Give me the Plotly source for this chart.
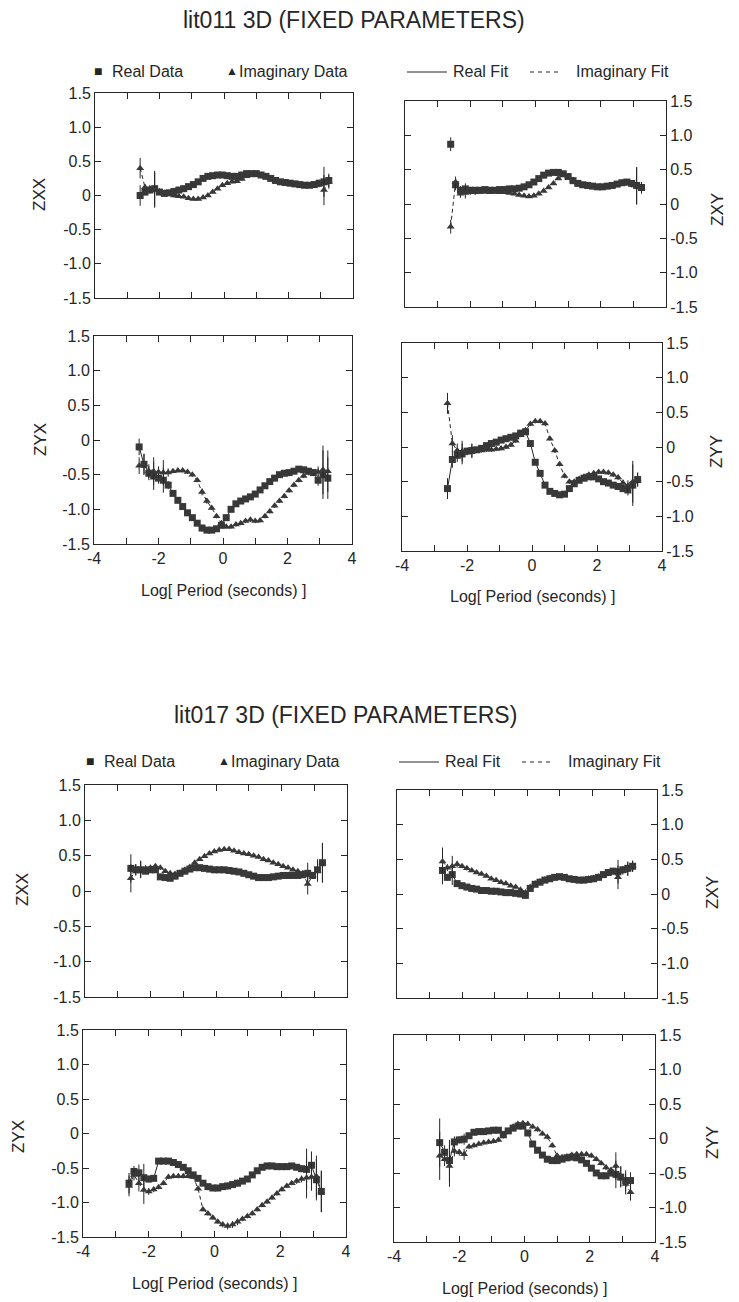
import plotly.graph_objects as go

# The page body adds an 8px margin, so the figure is made 8px smaller and
# all pixel positions below are measured on the 739x1302 page and shifted.
PAGE_W, PAGE_H = 739, 1302
OFF = 8
W, H = PAGE_W - OFF, PAGE_H - OFF

# Log10 period (seconds) sample points shared by all panels
X = [-2.6, -2.45, -2.3, -2.15, -2.0, -1.85, -1.7, -1.55, -1.4, -1.25,
     -1.1, -0.95, -0.8, -0.65, -0.5, -0.35, -0.2, -0.05, 0.1, 0.25,
     0.4, 0.55, 0.7, 0.85, 1.0, 1.15, 1.3, 1.45, 1.6, 1.75,
     1.9, 2.05, 2.2, 2.35, 2.5, 2.65, 2.8, 2.95, 3.1, 3.25]

# ---------------- lit011 ----------------
lit011_zxx_real = [0.0, 0.05, 0.08, 0.1, 0.05, 0.03, 0.04, 0.06, 0.08, 0.1,
                   0.13, 0.16, 0.2, 0.25, 0.28, 0.29, 0.3, 0.3, 0.29, 0.28,
                   0.28, 0.3, 0.32, 0.32, 0.32, 0.3, 0.28, 0.25, 0.22, 0.2,
                   0.19, 0.18, 0.17, 0.16, 0.15, 0.15, 0.16, 0.18, 0.2, 0.22]
lit011_zxx_imag = [0.4, 0.12, 0.1, 0.08, 0.06, 0.04, 0.02, 0.0, -0.01, -0.02,
                   -0.04, -0.05, -0.05, -0.03, 0.0, 0.05, 0.1, 0.15, 0.18, 0.2,
                   0.21, 0.24, 0.28, 0.31, 0.32, 0.3, 0.27, 0.24, 0.21, 0.19,
                   0.18, 0.17, 0.16, 0.15, 0.14, 0.14, 0.15, 0.17, 0.08, 0.2]
lit011_zxx_err = [0.15, 0.05, 0.05, 0.26, 0.04, 0.03, 0.03, 0.03, 0.02, 0.02,
                  0.02, 0.02, 0.02, 0.02, 0.02, 0.02, 0.02, 0.02, 0.02, 0.02,
                  0.02, 0.02, 0.02, 0.02, 0.02, 0.02, 0.02, 0.02, 0.02, 0.02,
                  0.02, 0.02, 0.02, 0.02, 0.03, 0.03, 0.04, 0.05, 0.22, 0.1]

lit011_zxy_real = [0.87, 0.28, 0.2, 0.22, 0.2, 0.2, 0.2, 0.21, 0.2, 0.2,
                   0.21, 0.21, 0.22, 0.22, 0.23, 0.25, 0.28, 0.32, 0.37, 0.42,
                   0.45, 0.46, 0.46, 0.44, 0.4, 0.34, 0.3, 0.28, 0.27, 0.26,
                   0.25, 0.25, 0.26, 0.27, 0.29, 0.31, 0.32, 0.3, 0.27, 0.24]
lit011_zxy_imag = [-0.33, 0.32, 0.15, 0.16, 0.18, 0.17, 0.18, 0.18, 0.17, 0.18,
                   0.17, 0.17, 0.16, 0.15, 0.13, 0.12, 0.11, 0.12, 0.15, 0.19,
                   0.24, 0.3, 0.37, 0.42, 0.4, 0.35, 0.3, 0.27, 0.26, 0.25,
                   0.24, 0.24, 0.25, 0.26, 0.28, 0.3, 0.31, 0.29, 0.26, 0.23]
lit011_zxy_err = [0.1, 0.08, 0.06, 0.08, 0.05, 0.04, 0.03, 0.03, 0.02, 0.02,
                  0.02, 0.02, 0.02, 0.02, 0.02, 0.02, 0.02, 0.02, 0.02, 0.02,
                  0.02, 0.02, 0.02, 0.02, 0.02, 0.02, 0.02, 0.02, 0.02, 0.02,
                  0.02, 0.02, 0.02, 0.02, 0.03, 0.03, 0.04, 0.05, 0.27, 0.08]

lit011_zyx_real = [-0.1, -0.35, -0.48, -0.52, -0.55, -0.58, -0.65, -0.77, -0.87, -0.96,
                   -1.05, -1.12, -1.2, -1.27, -1.3, -1.3, -1.28, -1.23, -1.12, -1.0,
                   -0.92, -0.88, -0.85, -0.82, -0.78, -0.72, -0.66, -0.6, -0.55, -0.5,
                   -0.48, -0.47, -0.45, -0.42, -0.43, -0.45, -0.47, -0.58, -0.5, -0.55]
lit011_zyx_imag = [-0.37, -0.35, -0.45, -0.45, -0.46, -0.47, -0.47, -0.45, -0.44, -0.44,
                   -0.46, -0.5, -0.58, -0.75, -0.88, -0.98, -1.1, -1.2, -1.25, -1.25,
                   -1.22, -1.2, -1.17, -1.15, -1.17, -1.16, -1.1, -1.03, -0.95, -0.88,
                   -0.81, -0.73, -0.65, -0.58, -0.52, -0.47, -0.47, -0.46, -0.43, -0.45]
lit011_zyx_err = [0.12, 0.15, 0.1, 0.2, 0.08, 0.18, 0.06, 0.03, 0.03, 0.03,
                  0.03, 0.03, 0.03, 0.05, 0.04, 0.03, 0.03, 0.03, 0.03, 0.03,
                  0.03, 0.03, 0.03, 0.03, 0.03, 0.03, 0.03, 0.03, 0.03, 0.03,
                  0.03, 0.03, 0.03, 0.03, 0.03, 0.04, 0.05, 0.08, 0.35, 0.3]

lit011_zyy_real = [-0.6, -0.18, -0.12, -0.1, -0.06, -0.05, -0.04, -0.02, 0.02, 0.05,
                   0.07, 0.1, 0.12, 0.14, 0.16, 0.2, 0.22, 0.05, -0.22, -0.38,
                   -0.55, -0.64, -0.67, -0.69, -0.68, -0.6, -0.53, -0.48, -0.45, -0.43,
                   -0.43, -0.46, -0.5, -0.52, -0.55, -0.57, -0.6, -0.62, -0.55, -0.47]
lit011_zyy_imag = [0.63, 0.05, -0.05, -0.06, -0.07, -0.06, -0.05, -0.05, -0.04, -0.04,
                   -0.03, -0.02, 0.0, 0.03, 0.09, 0.17, 0.24, 0.33, 0.37, 0.37,
                   0.34, 0.12, -0.05, -0.25, -0.42, -0.5, -0.5, -0.46, -0.43, -0.4,
                   -0.38, -0.36, -0.36, -0.37, -0.4, -0.44, -0.52, -0.56, -0.5, -0.47]
lit011_zyy_err = [0.15, 0.12, 0.1, 0.15, 0.05, 0.1, 0.03, 0.03, 0.03, 0.03,
                  0.03, 0.03, 0.03, 0.03, 0.03, 0.03, 0.03, 0.03, 0.03, 0.03,
                  0.03, 0.03, 0.03, 0.03, 0.03, 0.03, 0.03, 0.03, 0.03, 0.03,
                  0.03, 0.03, 0.03, 0.03, 0.03, 0.04, 0.05, 0.08, 0.3, 0.1]

# ---------------- lit017 ----------------
lit017_zxx_real = [0.32, 0.3, 0.3, 0.28, 0.3, 0.3, 0.2, 0.19, 0.18, 0.21,
                   0.25, 0.28, 0.31, 0.33, 0.33, 0.32, 0.31, 0.3, 0.3, 0.3,
                   0.29, 0.28, 0.27, 0.25, 0.23, 0.21, 0.19, 0.19, 0.19, 0.2,
                   0.21, 0.22, 0.22, 0.22, 0.22, 0.23, 0.25, 0.22, 0.3, 0.4]
lit017_zxx_imag = [0.18, 0.3, 0.31, 0.32, 0.33, 0.35, 0.33, 0.28, 0.25, 0.24,
                   0.26, 0.3, 0.34, 0.4, 0.45, 0.49, 0.53, 0.56, 0.58, 0.59,
                   0.59, 0.57, 0.55, 0.53, 0.52, 0.5, 0.48, 0.45, 0.43, 0.4,
                   0.38, 0.35, 0.33, 0.3, 0.28, 0.25, 0.1, 0.22, 0.28, 0.4]
lit017_zxx_err = [0.2, 0.08, 0.12, 0.04, 0.03, 0.03, 0.03, 0.02, 0.02, 0.02,
                  0.02, 0.02, 0.02, 0.02, 0.02, 0.02, 0.02, 0.02, 0.02, 0.02,
                  0.02, 0.02, 0.02, 0.02, 0.02, 0.02, 0.02, 0.02, 0.02, 0.02,
                  0.02, 0.02, 0.02, 0.02, 0.03, 0.04, 0.15, 0.05, 0.15, 0.28]

lit017_zxy_real = [0.34, 0.24, 0.28, 0.15, 0.12, 0.1, 0.08, 0.07, 0.05, 0.05,
                   0.04, 0.04, 0.03, 0.02, 0.02, 0.01, 0.0, -0.02, 0.08, 0.14,
                   0.17, 0.2, 0.22, 0.24, 0.25, 0.24, 0.22, 0.21, 0.2, 0.2,
                   0.21, 0.22, 0.24, 0.28, 0.31, 0.33, 0.32, 0.35, 0.37, 0.4]
lit017_zxy_imag = [0.47, 0.38, 0.4, 0.43, 0.4, 0.37, 0.34, 0.31, 0.29, 0.26,
                   0.22, 0.2, 0.17, 0.15, 0.12, 0.1, 0.06, 0.02, 0.1, 0.15,
                   0.18, 0.21, 0.23, 0.24, 0.24, 0.23, 0.21, 0.2, 0.2, 0.21,
                   0.22, 0.23, 0.25, 0.27, 0.3, 0.32, 0.24, 0.33, 0.36, 0.4]
lit017_zxy_err = [0.2, 0.05, 0.15, 0.05, 0.03, 0.03, 0.02, 0.02, 0.02, 0.02,
                  0.02, 0.02, 0.02, 0.02, 0.02, 0.02, 0.02, 0.02, 0.02, 0.02,
                  0.02, 0.02, 0.02, 0.02, 0.02, 0.02, 0.02, 0.02, 0.02, 0.02,
                  0.02, 0.02, 0.02, 0.02, 0.03, 0.04, 0.17, 0.05, 0.1, 0.08]

lit017_zyx_real = [-0.72, -0.55, -0.57, -0.64, -0.66, -0.65, -0.4, -0.4, -0.4, -0.42,
                   -0.45, -0.49, -0.54, -0.6, -0.65, -0.72, -0.77, -0.79, -0.79, -0.77,
                   -0.76, -0.74, -0.72, -0.69, -0.66, -0.6, -0.54, -0.49, -0.47, -0.47,
                   -0.48, -0.48, -0.48, -0.47, -0.49, -0.51, -0.52, -0.46, -0.67, -0.84]
lit017_zyx_imag = [-0.76, -0.6, -0.72, -0.82, -0.84, -0.81, -0.78, -0.72, -0.63, -0.62,
                   -0.62, -0.62, -0.62, -0.63, -0.8, -1.1, -1.16, -1.22, -1.28, -1.32,
                   -1.34, -1.32, -1.28, -1.24, -1.2, -1.16, -1.1, -1.04, -0.99, -0.93,
                   -0.87, -0.81, -0.76, -0.72, -0.69, -0.66, -0.64, -0.63, -0.62, -0.84]
lit017_zyx_err = [0.15, 0.08, 0.12, 0.2, 0.05, 0.04, 0.03, 0.03, 0.03, 0.03,
                  0.03, 0.03, 0.03, 0.03, 0.03, 0.03, 0.03, 0.03, 0.03, 0.04,
                  0.05, 0.05, 0.05, 0.03, 0.03, 0.03, 0.03, 0.03, 0.03, 0.03,
                  0.03, 0.03, 0.03, 0.03, 0.04, 0.05, 0.3, 0.2, 0.3, 0.3]

lit017_zyy_real = [-0.06, -0.2, -0.32, -0.05, -0.02, -0.01, 0.04, 0.09, 0.1, 0.1,
                   0.11, 0.12, 0.12, 0.06, 0.11, 0.15, 0.18, 0.18, 0.08, -0.08,
                   -0.17, -0.24, -0.3, -0.32, -0.32, -0.3, -0.28, -0.27, -0.28, -0.31,
                   -0.36, -0.43, -0.5, -0.54, -0.54, -0.5, -0.52, -0.56, -0.61, -0.61]
lit017_zyy_imag = [-0.25, -0.3, -0.4, -0.18, -0.2, -0.23, -0.12, -0.1, -0.08, -0.06,
                   -0.05, -0.04, -0.02, 0.03, 0.1, 0.17, 0.21, 0.22, 0.21, 0.17,
                   0.13, 0.07, 0.02, -0.1, -0.25, -0.27, -0.26, -0.24, -0.23, -0.23,
                   -0.23, -0.25, -0.3, -0.36, -0.42, -0.46, -0.4, -0.55, -0.66, -0.78]
lit017_zyy_err = [0.35, 0.1, 0.3, 0.08, 0.05, 0.08, 0.03, 0.03, 0.03, 0.03,
                  0.03, 0.03, 0.03, 0.03, 0.03, 0.03, 0.03, 0.03, 0.03, 0.03,
                  0.03, 0.03, 0.03, 0.03, 0.03, 0.03, 0.03, 0.03, 0.03, 0.03,
                  0.03, 0.03, 0.03, 0.03, 0.04, 0.05, 0.2, 0.15, 0.15, 0.12]

# ---------------- panel boxes in page pixels: left, right, top, bottom ----------------
panels = [
    dict(label="ZXX", real=lit011_zxx_real, imag=lit011_zxx_imag, err=lit011_zxx_err,
         box=(95, 353, 93, 298), side="left", xlab=False, lab=(40, 195), fit0=0),
    dict(label="ZXY", real=lit011_zxy_real, imag=lit011_zxy_imag, err=lit011_zxy_err,
         box=(405, 666, 101, 307), side="right", xlab=False, lab=(717, 210), fit0=1),
    dict(label="ZYX", real=lit011_zyx_real, imag=lit011_zyx_imag, err=lit011_zyx_err,
         box=(94, 352, 336, 544), side="left", xlab=True, lab=(40, 440), fit0=0),
    dict(label="ZYY", real=lit011_zyy_real, imag=lit011_zyy_imag, err=lit011_zyy_err,
         box=(402, 662, 343, 551), side="right", xlab=True, lab=(716, 452), fit0=0),
    dict(label="ZXX", real=lit017_zxx_real, imag=lit017_zxx_imag, err=lit017_zxx_err,
         box=(85, 347, 785, 997), side="left", xlab=False, lab=(22, 890), fit0=0),
    dict(label="ZXY", real=lit017_zxy_real, imag=lit017_zxy_imag, err=lit017_zxy_err,
         box=(397, 657, 790, 998), side="right", xlab=False, lab=(712, 893), fit0=0),
    dict(label="ZYX", real=lit017_zyx_real, imag=lit017_zyx_imag, err=lit017_zyx_err,
         box=(83, 346, 1030, 1237), side="left", xlab=True, lab=(18, 1137), fit0=0),
    dict(label="ZYY", real=lit017_zyy_real, imag=lit017_zyy_imag, err=lit017_zyy_err,
         box=(394, 655, 1035, 1242), side="right", xlab=True, lab=(712, 1143), fit0=0),
]

FONT = "Liberation Sans, Arial, Helvetica, sans-serif"
INK = "#262626"
MARK = "#383838"
XT = [-4, -3, -2, -1, 0, 1, 2, 3, 4]
XL = ["-4", "", "-2", "", "0", "", "2", "", "4"]
YT = [-1.5, -1.0, -0.5, 0, 0.5, 1.0, 1.5]
YL = ["-1.5", "-1.0", "-0.5", "0", "0.5", "1.0", "1.5"]


def fx(px):
    return (px - OFF) / W


def fy(py):
    return 1 - (py - OFF) / H


fig = go.Figure()
layout = dict(width=W, height=H, margin=dict(l=0, r=0, t=0, b=0, pad=0, autoexpand=False),
              paper_bgcolor="white", plot_bgcolor="white", showlegend=False,
              font=dict(family=FONT, color=INK))
annotations = []
shapes = []

for i, p in enumerate(panels, start=1):
    l, r, t, b = p["box"]
    xa = "xaxis" if i == 1 else f"xaxis{i}"
    ya = "yaxis" if i == 1 else f"yaxis{i}"
    xr = f"x{i}" if i > 1 else "x"
    yr = f"y{i}" if i > 1 else "y"
    layout[xa] = dict(domain=[fx(l), fx(r)], anchor=yr, range=[-4, 4],
                      tickvals=XT, ticktext=XL if p["xlab"] else [""] * 9,
                      showticklabels=p["xlab"], ticks="inside", ticklen=6,
                      tickcolor=INK, showline=True, linecolor=INK, linewidth=1,
                      mirror="ticks", showgrid=False, zeroline=False, automargin=False,
                      tickfont=dict(size=16, color=INK, family=FONT))
    layout[ya] = dict(domain=[fy(b), fy(t)], anchor=xr, range=[-1.5, 1.5],
                      side=p["side"], tickvals=YT, ticktext=YL,
                      ticks="inside", ticklen=6, tickcolor=INK,
                      showline=True, linecolor=INK, linewidth=1, mirror="ticks",
                      showgrid=False, zeroline=False, automargin=False,
                      tickfont=dict(size=16, color=INK, family=FONT))

    f0 = p["fit0"]
    # fitted curves
    fig.add_trace(go.Scatter(x=X[f0:], y=p["real"][f0:], mode="lines", xaxis=xr, yaxis=yr,
                             line=dict(color=INK, width=1), hoverinfo="skip"))
    fig.add_trace(go.Scatter(x=X, y=p["imag"], mode="lines", xaxis=xr, yaxis=yr,
                             line=dict(color=INK, width=1, dash="4px,3px"), hoverinfo="skip"))
    # observed data
    fig.add_trace(go.Scatter(x=X, y=p["real"], mode="markers", xaxis=xr, yaxis=yr,
                             marker=dict(symbol="square", size=7, color=MARK),
                             error_y=dict(type="data", array=p["err"], width=0,
                                          thickness=1, color=INK)))
    fig.add_trace(go.Scatter(x=X, y=p["imag"], mode="markers", xaxis=xr, yaxis=yr,
                             marker=dict(symbol="triangle-up", size=7, color=MARK),
                             error_y=dict(type="data", array=p["err"], width=0,
                                          thickness=1, color=INK)))

    lx, ly = p["lab"]
    annotations.append(dict(text=p["label"], x=fx(lx), y=fy(ly), xref="paper",
                            yref="paper", showarrow=False, textangle=-90,
                            font=dict(size=17, color=INK, family=FONT),
                            xanchor="center", yanchor="middle"))
    if p["xlab"]:
        annotations.append(dict(text="Log[ Period (seconds) ]", x=fx((l + r) / 2),
                                y=fy(b + 46), xref="paper", yref="paper",
                                showarrow=False, font=dict(size=16, color=INK, family=FONT),
                                xanchor="center", yanchor="middle"))


def add_text(txt, px, py, size, anchor="center"):
    annotations.append(dict(text=txt, x=fx(px), y=fy(py), xref="paper", yref="paper",
                            showarrow=False, xanchor=anchor, yanchor="middle",
                            font=dict(size=size, color=INK, family=FONT)))


def add_hline(x0, x1, py, dash):
    shapes.append(dict(type="line", xref="paper", yref="paper", x0=fx(x0), x1=fx(x1),
                       y0=fy(py), y1=fy(py),
                       line=dict(color=INK, width=1, dash=dash)))


titles = ["lit011 3D (FIXED PARAMETERS)", "lit017 3D (FIXED PARAMETERS)"]
legend_labels = ["Real Data", "Imaginary Data", "Real Fit", "Imaginary Fit"]

add_text(titles[0], 354, 20, 23)
add_text(titles[1], 345, 715, 23)

for dx, ly in [(0, 71), (-8, 761)]:
    add_text("\u25a0", 92 + dx, ly, 14, anchor="left")
    add_text(legend_labels[0], 110 + dx, ly, 16, anchor="left")
    add_text("\u25b2", 224 + dx, ly, 12, anchor="left")
    add_text(legend_labels[1], 237 + dx, ly, 16, anchor="left")
    add_hline(407 + dx, 447 + dx, ly + 1, "solid")
    add_text(legend_labels[2], 451 + dx, ly, 16, anchor="left")
    add_hline(530 + dx, 558 + dx, ly + 1, "4px,4px")
    add_text(legend_labels[3], 574 + dx, ly, 16, anchor="left")

layout["annotations"] = annotations
layout["shapes"] = shapes
fig.update_layout(**layout)
fig.write_html("out.html")
